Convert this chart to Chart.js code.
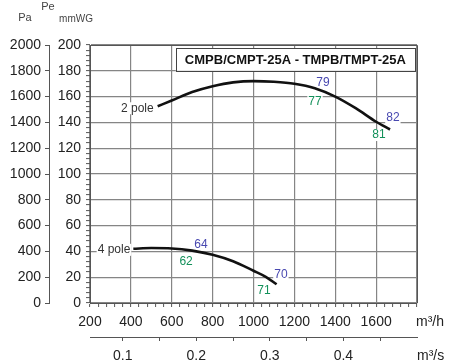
<!DOCTYPE html>
<html>
<head>
<meta charset="utf-8">
<script src="https://cdn.jsdelivr.net/npm/chart.js@4.4.0/dist/chart.umd.min.js"></script>
<style>
  html, body { margin: 0; padding: 0; background: #fff; }
  #wrap { width: 450px; height: 364px; position: relative; }
</style>
</head>
<body>
<div id="wrap"><canvas id="chart"></canvas></div>
<script>
// --- data: flow in m3/h, pressure in mmWG ---
const pole2Flow  = [531, 600, 700, 800, 900, 1000, 1100, 1200, 1300, 1400, 1500, 1600, 1668];
const pole2Press = [152.5, 157, 163.5, 168, 171, 172, 171.5, 170, 166.5, 160, 151, 140.5, 134.5];
const pole4Flow  = [412, 500, 600, 700, 800, 900, 1000, 1060, 1113];
const pole4Press = [42, 42.6, 42.3, 40.6, 37.4, 32.4, 25, 20.3, 14.5];

// tick labels
const flowLabels   = [200, 400, 600, 800, 1000, 1200, 1400, 1600];
const mmwgLabels   = [0, 20, 40, 60, 80, 100, 120, 140, 160, 180, 200];
const paLabels     = [0, 200, 400, 600, 800, 1000, 1200, 1400, 1600, 1800, 2000];
const flowSecLabels = [0.1, 0.2, 0.3, 0.4];

// sound levels written along the curves
const noiseText  = ['79', '77', '82', '81', '64', '62', '70', '71'];
const noiseFlow  = [1340, 1301, 1682, 1614, 743, 670, 1134, 1051];
const noisePress = [170.5, 155.8, 143.4, 130.2, 45, 31.8, 21.7, 9.3];
const noiseKind  = ['b', 'g', 'b', 'g', 'b', 'g', 'b', 'g'];

const curveNames = ['2 pole', '4 pole'];

const FONT = "'Liberation Sans', Arial, sans-serif";
const GRID = '#858585';
const AXIS = '#555555';
const BLUE = '#4848b0';
const GREEN = '#13905a';

function toPoints(xs, ys) { return xs.map((x, i) => ({ x: x, y: ys[i] })); }
function minorTicks(from, to, step) {
  const out = [];
  for (let v = from; v <= to + 1e-9; v += step) out.push({ value: Math.round(v * 1000) / 1000 });
  return out;
}

const decor = {
  id: 'decor',
  beforeDatasetsDraw(chart) {
    const { ctx, chartArea: a } = chart;
    const x = chart.scales.x, y = chart.scales.y;
    ctx.save();
    // top / right frame
    ctx.strokeStyle = AXIS;
    ctx.lineWidth = 1;
    ctx.beginPath();
    ctx.moveTo(a.left, Math.round(a.top) + 0.5);
    ctx.lineTo(Math.round(a.right) + 0.5, Math.round(a.top) + 0.5);
    ctx.lineTo(Math.round(a.right) + 0.5, a.bottom);
    ctx.stroke();

    // title box
    const bl = x.getPixelForValue(600) + 4;
    const br = a.right - 2;
    const bt = a.top + 3;
    const bb = y.getPixelForValue(180);
    ctx.fillStyle = '#fff';
    ctx.fillRect(bl, bt, br - bl, bb - bt);
    ctx.strokeStyle = '#444';
    ctx.strokeRect(Math.round(bl) + 0.5, Math.round(bt) + 0.5, Math.round(br - bl), Math.round(bb - bt));
    ctx.fillStyle = '#111';
    ctx.font = 'bold 13px ' + FONT;
    ctx.textAlign = 'center';
    ctx.textBaseline = 'middle';
    ctx.fillText('CMPB/CMPT-25A - TMPB/TMPT-25A', (bl + br) / 2, (bt + bb) / 2 + 1);

    // labels sit on white patches over the grid, under the curves
    ctx.textBaseline = 'middle';
    function label(text, px, py, color, align, size) {
      ctx.font = size + 'px ' + FONT;
      ctx.textAlign = align;
      const w = ctx.measureText(text).width;
      const left = align === 'right' ? px - w : px - w / 2;
      ctx.fillStyle = '#fff';
      ctx.fillRect(left - 1, py - size / 2, w + 2, size);
      ctx.fillStyle = color;
      ctx.fillText(text, px, py);
    }

    noiseText.forEach((t, i) => {
      label(t, x.getPixelForValue(noiseFlow[i]), y.getPixelForValue(noisePress[i]),
        noiseKind[i] === 'b' ? BLUE : GREEN, 'center', 12);
    });

    // curve names, right aligned just before the start of each curve
    label(curveNames[0], x.getPixelForValue(pole2Flow[0]) - 4, y.getPixelForValue(pole2Press[0]) + 2, '#333', 'right', 12);
    label(curveNames[1], x.getPixelForValue(pole4Flow[0]) - 3, y.getPixelForValue(pole4Press[0]) + 1, '#333', 'right', 12);
    ctx.restore();
  },
  afterDraw(chart) {
    const { ctx } = chart;
    ctx.save();
    ctx.fillStyle = '#444';
    ctx.textBaseline = 'middle';
    ctx.textAlign = 'center';
    ctx.font = '11px ' + FONT;
    ctx.fillText('Pa', 25, 18);
    ctx.fillText('Pe', 48, 7);
    ctx.font = '10px ' + FONT;
    ctx.fillText('mmWG', 76, 19);
    ctx.fillStyle = '#222';
    ctx.textAlign = 'left';
    ctx.font = '14px ' + FONT;
    ctx.fillText('m³/h', 416, 322);
    ctx.fillText('m³/s', 417, 356);
    ctx.restore();
  }
};

new Chart(document.getElementById('chart'), {
  type: 'line',
  data: {
    datasets: [
      {
        label: curveNames[0],
        data: toPoints(pole2Flow, pole2Press),
        borderColor: '#111',
        borderWidth: 2.6,
        pointRadius: 0,
        fill: false,
        cubicInterpolationMode: 'monotone',
        xAxisID: 'x',
        yAxisID: 'y'
      },
      {
        label: curveNames[1],
        data: toPoints(pole4Flow, pole4Press),
        borderColor: '#111',
        borderWidth: 2.6,
        pointRadius: 0,
        fill: false,
        cubicInterpolationMode: 'monotone',
        xAxisID: 'x',
        yAxisID: 'y'
      }
    ]
  },
  options: {
    responsive: true,
    maintainAspectRatio: false,
    animation: false,
    events: [],
    layout: { padding: { top: 45, right: 33, left: 0, bottom: 0 } },
    plugins: { legend: { display: false }, tooltip: { enabled: false } },
    scales: {
      x: {
        type: 'linear',
        position: 'bottom',
        weight: 0,
        min: 200,
        max: 1800,
        afterBuildTicks: s => { s.ticks = minorTicks(200, 1800, 40); },
        afterFit: s => { s.height = 34; },
        ticks: {
          autoSkip: false,
          maxRotation: 0,
          padding: 7,
          color: '#222',
          font: { family: FONT, size: 14 },
          callback: v => (flowLabels.includes(v) ? String(v) : '')
        },
        grid: {
          color: c => (c.tick && c.tick.value % 200 === 0 ? GRID : 'rgba(0,0,0,0)'),
          lineWidth: 1.2,
          tickColor: AXIS,
          tickLength: 4,
          tickWidth: 1
        },
        border: { color: AXIS, width: 1 }
      },
      xs: {
        type: 'linear',
        position: 'bottom',
        weight: 1,
        min: 200 / 3600,
        max: 1800 / 3600,
        afterBuildTicks: s => { s.ticks = minorTicks(0.1, 0.45, 0.05); },
        afterFit: s => { s.height = 27; },
        ticks: {
          autoSkip: false,
          maxRotation: 0,
          padding: 7,
          color: '#222',
          font: { family: FONT, size: 14 },
          callback: v => (flowSecLabels.some(l => Math.abs(l - v) < 1e-6) ? String(v) : '')
        },
        grid: { drawOnChartArea: false, tickColor: AXIS, tickLength: 4 },
        border: { color: AXIS, width: 1 }
      },
      y: {
        type: 'linear',
        position: 'left',
        weight: 0,
        min: 0,
        max: 200,
        afterBuildTicks: s => { s.ticks = minorTicks(0, 200, 4); },
        afterFit: s => { s.width = 41; },
        ticks: {
          autoSkip: false,
          padding: 5,
          color: '#222',
          font: { family: FONT, size: 14 },
          callback: v => (mmwgLabels.includes(v) ? String(v) : '')
        },
        grid: {
          color: c => (c.tick && c.tick.value % 20 === 0 ? GRID : 'rgba(0,0,0,0)'),
          lineWidth: 1.2,
          tickColor: AXIS,
          tickLength: 4,
          tickWidth: 1
        },
        border: { color: AXIS, width: 1 }
      },
      yPa: {
        type: 'linear',
        position: 'left',
        weight: 1,
        min: 0,
        max: 2000,
        afterBuildTicks: s => { s.ticks = paLabels.map(v => ({ value: v })); },
        afterFit: s => { s.width = 49; },
        ticks: {
          autoSkip: false,
          padding: 4,
          color: '#222',
          font: { family: FONT, size: 14 },
          callback: v => String(v)
        },
        grid: { drawOnChartArea: false, tickColor: AXIS, tickLength: 4 },
        border: { color: AXIS, width: 1 }
      }
    }
  },
  plugins: [decor]
});
</script>
</body>
</html>
